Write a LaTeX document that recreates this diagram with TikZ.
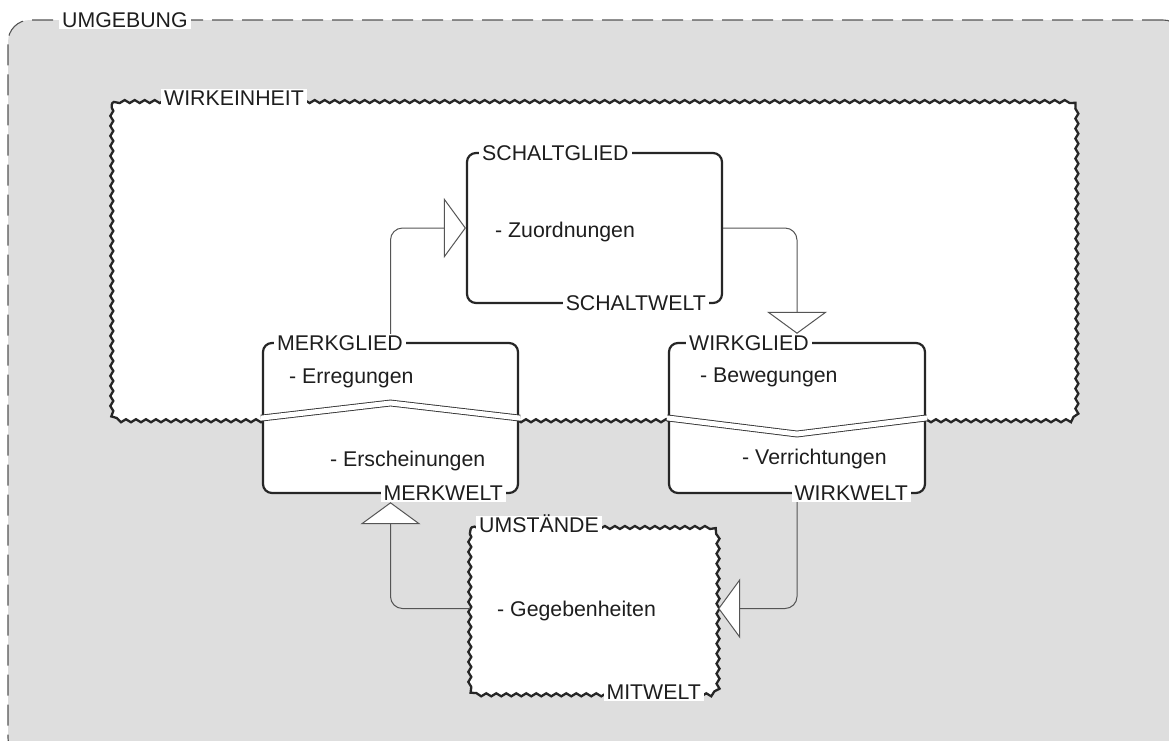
\documentclass[tikz,border=0pt]{standalone}
\usepackage{fontspec}
\setmainfont{Liberation Sans}
\usetikzlibrary{arrows.meta,decorations.pathmorphing}

\definecolor{umgrau}{HTML}{DEDEDE}
\definecolor{strich}{HTML}{555555}
\definecolor{schrift}{HTML}{1E1E1E}

\tikzset{
  glied/.style={draw=black!85,line width=2.2pt,rounded corners=9pt,fill=white,inner sep=0pt},
  platz/.style={inner sep=0pt},
  welle/.style={draw=black!85,line width=2.3pt,fill=white,
    decoration={snake,amplitude=1.5pt,segment length=10pt}},
  umfeld/.style={draw=strich,line width=1.1pt,fill=umgrau,rounded corners=22pt,inner sep=0pt,
    dash pattern=on 21pt off 9pt},
  tag/.style={fill=white,text=schrift,font=\fontsize{21.3}{24}\selectfont,
    inner xsep=3pt,inner ysep=1.5pt,text height=15pt,text depth=0pt},
  eintrag/.style={text=schrift,font=\fontsize{21.3}{24}\selectfont,inner sep=0pt,anchor=base west},
  link/.style={draw=strich,line width=1pt,rounded corners=12pt,
    -{Triangle[width=60pt,length=22pt,fill=white]}},
  band/.style={draw=black!80,line width=0.9pt,double=white,double distance=5pt,
    shorten <=-1pt,shorten >=-1pt}
}

\begin{document}
\begin{tikzpicture}[x=1pt,y=-1pt]

\useasboundingbox (0,0) rectangle (1169,740);
\clip (0,0) rectangle (1169,740);

% The surroundings
\node[umfeld,minimum width=1177pt,minimum height=740pt] (umgebung) at (596.5,390) {};
\node[tag,anchor=west] (umgebungname) at (59,20) {UMGEBUNG};

% The unit
\node[platz,minimum width=965pt,minimum height=319pt] (einheit) at (594.5,258.5) {};
\path[welle] decorate {[rounded corners=9pt] (einheit.north west) rectangle (einheit.south east)};
\node[tag,anchor=west] (einheitname) at (161,98) {WIRKEINHEIT};

% The circumstances
\node[platz,minimum width=248pt,minimum height=167pt] (umst) at (594,608.5) {};
\path[welle] decorate {[rounded corners=9pt] (umst.north west) rectangle (umst.south east)};

% The three members
\node[glied,minimum width=255pt,minimum height=150pt] (schalt) at (594.5,228) {};
\node[glied,minimum width=255pt,minimum height=150pt] (merk) at (390.5,418) {};
\node[glied,minimum width=256pt,minimum height=150pt] (wirk) at (797,418) {};

% The breaks
\draw[band] (merk.west) -- ([yshift=15pt]merk.center) -- (merk.east);
\draw[band] (wirk.west) -- ([yshift=-16pt]wirk.center) -- (wirk.east);

% The names
\node[tag,anchor=west] (schaltname) at (479,153) {SCHALTGLIED};
\node[tag,anchor=east] (schaltwelt) at (709,303) {SCHALTWELT};
\node[tag,anchor=west] (merkname) at (274,343) {MERKGLIED};
\node[tag,anchor=east] (merkwelt) at (506,493) {MERKWELT};
\node[tag,anchor=west] (wirkname) at (686,343) {WIRKGLIED};
\node[tag,anchor=east] (wirkwelt) at (911,493) {WIRKWELT};
\node[tag,anchor=west] (umstname) at (476,525) {UMSTÄNDE};
\node[tag,anchor=east] (mitwelt) at (704,692) {MITWELT};

% The entries
\node[eintrag] (zuord) at (495,237) {- Zuordnungen};
\node[eintrag] (erreg) at (289,383) {- Erregungen};
\node[eintrag] (ersch) at (330,466) {- Erscheinungen};
\node[eintrag] (beweg) at (700,382) {- Bewegungen};
\node[eintrag] (verr) at (742,464) {- Verrichtungen};
\node[eintrag] (gegeb) at (497,616) {- Gegebenheiten};

% The circle
\draw[link] (merk.north |- merkname.north) |- (schalt.west);
\draw[link] (schalt.east) -| (wirk.north |- wirkname.north);
\draw[link] (wirk.south |- wirkwelt.south) |- (umst.east);
\draw[link] (umst.west) -| (merk.south |- merkwelt.south);

\end{tikzpicture}
\end{document}
